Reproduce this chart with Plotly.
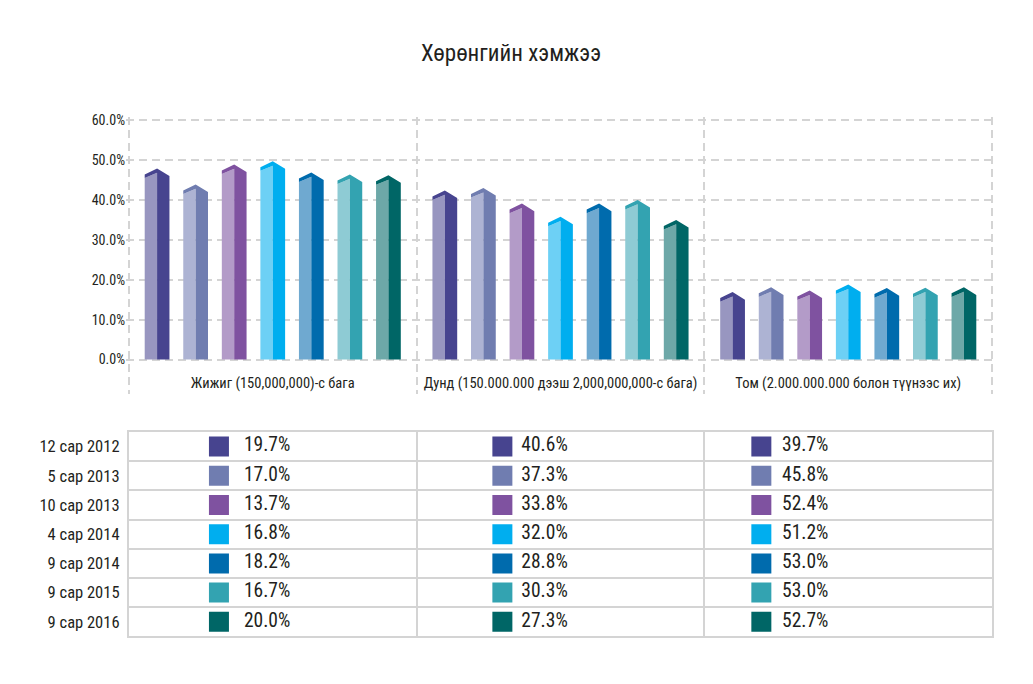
import plotly.graph_objects as go

# categories on the x axis of the bar chart
categories = [
    "Жижиг (150,000,000)-с бага",
    "Дунд (150.000.000 дээш 2,000,000,000-с бага)",
    "Том (2.000.000.000 болон түүнээс их)",
]
periods = ["12 сар 2012", "5 сар 2013", "10 сар 2013", "4 сар 2014",
           "9 сар 2014", "9 сар 2015", "9 сар 2016"]

# bar heights (%), one list per period: [small, medium, large]
bar_12_2012 = [46.0, 40.5, 15.0]
bar_5_2013 = [42.0, 41.1, 16.2]
bar_10_2013 = [47.0, 37.2, 15.4]
bar_4_2014 = [47.8, 33.9, 16.9]
bar_9_2014 = [45.0, 37.2, 16.0]
bar_9_2015 = [44.5, 38.1, 16.1]
bar_9_2016 = [44.3, 33.1, 16.2]
bar_values = [bar_12_2012, bar_5_2013, bar_10_2013, bar_4_2014,
              bar_9_2014, bar_9_2015, bar_9_2016]

# values printed in the table below the chart, one list per column
table_col1 = [19.7, 17.0, 13.7, 16.8, 18.2, 16.7, 20.0]
table_col2 = [40.6, 37.3, 33.8, 32.0, 28.8, 30.3, 27.3]
table_col3 = [39.7, 45.8, 52.4, 51.2, 53.0, 53.0, 52.7]
table_cols = [table_col1, table_col2, table_col3]

y_ticks = [0, 10, 20, 30, 40, 50, 60]

dark = ["#47448F", "#707DB0", "#7F52A0", "#00AEEF", "#006BAD", "#33A3B1", "#006666"]
light = ["#9896C0", "#ADB3D3", "#B39BC8", "#6DD0F5", "#6FA9D0", "#8ECBD4", "#6DA8A8"]

FONT = "Liberation Sans Narrow, Roboto Condensed, Arial Narrow, Roboto, sans-serif"
TXT = "#231F20"
GRID = "#D4D4D4"

fig = go.Figure()

pitch, hw = 0.134, 0.043
for i in range(len(periods)):
    lx, ly, dx, dy = [], [], [], []
    for c, v in enumerate(bar_values[i]):
        xc = c + (i - 3) * pitch
        L, M, R = xc - hw, xc, xc + hw
        # light (left) face with sloped top
        lx += [L, L, M, M, L, None]
        ly += [0, v - 0.5, v + 0.8, 0, 0, None]
        # dark right face + roof band
        dx += [L, L, M, R, R, M, M, L, None]
        dy += [v - 0.5, v + 0.4, v + 1.9, v, 0, 0, v + 0.8, v - 0.5, None]
    fig.add_trace(go.Scatter(x=lx, y=ly, mode="lines", fill="toself",
                             fillcolor=light[i], line=dict(width=0),
                             hoverinfo="skip", showlegend=False))
    fig.add_trace(go.Scatter(x=dx, y=dy, mode="lines", fill="toself",
                             fillcolor=dark[i], line=dict(width=0),
                             hoverinfo="text", text=periods[i], showlegend=False))

# table: swatches + values
sw_off = [0.313, 0.298, 0.198]
tx_off = [0.400, 0.364, 0.270]
rows = list(range(len(periods)))
for c, vals in enumerate(table_cols):
    fig.add_trace(go.Scatter(
        x=[c + sw_off[c]] * len(rows), y=rows, mode="markers",
        marker=dict(symbol="square", size=20, color=dark, line=dict(width=0)),
        xaxis="x2", yaxis="y2", hoverinfo="skip", showlegend=False))
    fig.add_trace(go.Scatter(
        x=[c + tx_off[c]] * len(rows), y=rows, mode="text",
        text=[f"{v:.1f}%" for v in vals], textposition="middle right",
        textfont=dict(family=FONT, size=19.5, color=TXT),
        xaxis="x2", yaxis="y2", hoverinfo="skip", showlegend=False))

H = 684
OFF = 8  # page body margin


def dom(top, bottom):
    return [1 - (bottom - OFF) / H, 1 - (top - OFF) / H]


UX = 863 / 3  # px per category
PAD = 0.01
fig.update_layout(
    width=1033, height=H,
    margin=dict(l=129 - OFF - PAD * UX, r=1033 - (992 - OFF) - PAD * UX, t=0, b=0),
    paper_bgcolor="white", plot_bgcolor="white",
    font=dict(family=FONT, color=TXT),
    title=dict(text="Хөрөнгийн хэмжээ", x=(511 - OFF) / 1033, xref="container",
               y=1 - (53 - OFF) / H, yref="container", xanchor="center", yanchor="middle",
               font=dict(family=FONT, size=23, color=TXT)),
    xaxis=dict(domain=[0, 1], range=[-0.5 - PAD, 2.5 + PAD], tickmode="array",
               tickvals=[0, 1, 2], ticktext=categories, ticks="",
               ticklabelposition="inside", tickfont=dict(size=14.5, color=TXT),
               showgrid=False, zeroline=False, showline=False, fixedrange=True,
               minor=dict(tickvals=[-0.5, 0.5, 1.5, 2.5], showgrid=True,
                          gridcolor=GRID, gridwidth=2, griddash="8px,5px")),
    yaxis=dict(domain=dom(116 - 0.8 * 4.017, 392), range=[-8.7, 60.8],
               tickmode="array", tickvals=y_ticks,
               ticktext=[f"{t:.1f}%" for t in y_ticks],
               tickfont=dict(size=14, color=TXT), ticklabelstandoff=0,
               showgrid=True, gridcolor=GRID, gridwidth=2, griddash="8px,5px",
               zeroline=False, showline=False, fixedrange=True),
    xaxis2=dict(domain=[PAD / 3.02, 1 - PAD / 3.02], anchor="y2", range=[0, 3],
                showticklabels=False, ticks="", showgrid=False, zeroline=False,
                showline=True, mirror=True, linecolor=GRID, linewidth=2,
                minor=dict(tickvals=[1, 2], showgrid=True, gridcolor=GRID, gridwidth=2),
                fixedrange=True),
    yaxis2=dict(domain=dom(430, 636), anchor="x2", range=[6.5, -0.5],
                tickmode="array", tickvals=rows, ticktext=periods, ticks="",
                tickfont=dict(size=16.5, color=TXT), ticklabelstandoff=4,
                showgrid=False, zeroline=False,
                showline=True, mirror=True, linecolor=GRID, linewidth=2,
                minor=dict(tickvals=[0.5, 1.5, 2.5, 3.5, 4.5, 5.5], showgrid=True,
                           gridcolor=GRID, gridwidth=2),
                fixedrange=True),
)

fig.write_html("out.html")
